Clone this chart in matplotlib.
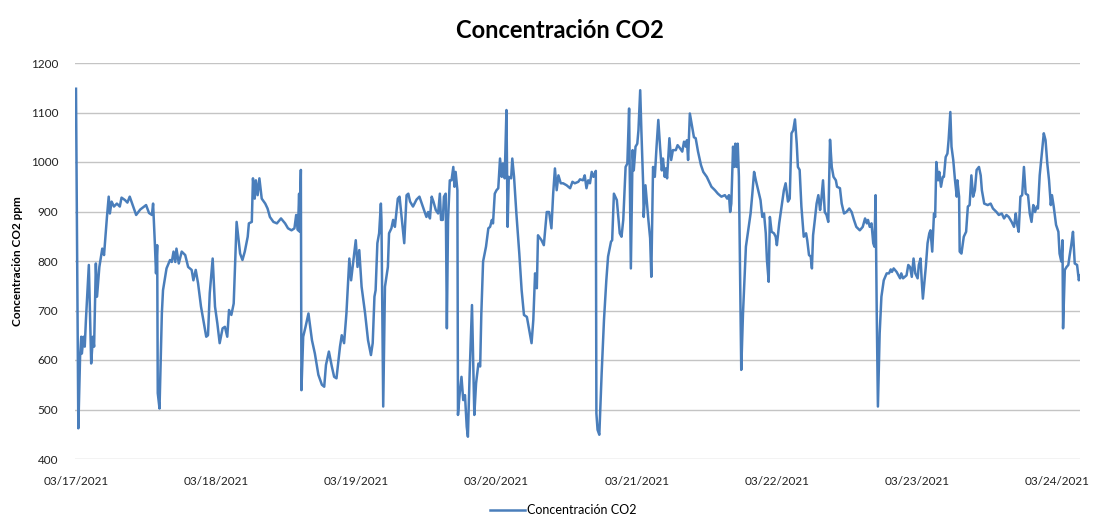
import matplotlib
matplotlib.use("Agg")
import matplotlib.pyplot as plt

plt.rcParams['font.family'] = ['Lato', 'DejaVu Sans']

title = "Concentración CO2"
y_label = "Concentración CO2 ppm"
series_name = "Concentración CO2"
day_labels = ["03/17/2021", "03/18/2021", "03/19/2021", "03/20/2021",
              "03/21/2021", "03/22/2021", "03/23/2021", "03/24/2021"]
y_ticks = [400, 500, 600, 700, 800, 900, 1000, 1100, 1200]

# hours since 03/17/2021 00:00
hours = [
    0.0, 0.4, 0.7, 0.9, 1.0, 1.3, 1.5, 1.7, 2.2, 2.6, 2.9, 3.1, 3.4, 3.6, 4.0, 4.5, 4.8,
    5.3, 5.6, 5.8, 6.1, 6.5, 7.0, 7.5, 7.8, 8.4, 8.8, 9.2, 9.7, 10.3, 11.0, 12.0, 12.5,
    13.0, 13.2, 13.5, 13.7, 13.9, 14.0, 14.3, 14.7, 14.9, 15.5, 16.1, 16.4, 16.7, 17.0,
    17.2, 17.6, 18.1, 18.7, 19.2, 19.8, 20.1, 20.5, 20.9, 21.4, 22.0, 22.3, 22.6, 22.9,
    23.4, 23.8, 24.2, 24.6, 25.1, 25.5, 25.9, 26.2, 26.6, 27.0, 27.5, 28.1, 28.5, 28.9,
    29.4, 29.6, 30.1, 30.3, 30.6, 30.8, 31.1, 31.4, 31.8, 32.4, 32.8, 33.2, 33.8, 34.4,
    35.1, 35.8, 36.3, 36.9, 37.4, 37.7, 38.0, 38.2, 38.3, 38.5, 38.6, 38.9, 39.3, 39.8,
    40.4, 40.9, 41.5, 42.1, 42.5, 42.8, 43.3, 43.8, 44.2, 44.6, 45.2, 45.5, 45.9, 46.3,
    46.8, 47.1, 47.5, 47.9, 48.2, 48.5, 48.9, 49.5, 50.0, 50.5, 50.8, 51.1, 51.3, 51.6,
    51.9, 52.2, 52.3, 52.6, 52.9, 53.4, 53.6, 54.0, 54.3, 54.6, 55.1, 55.4, 56.2, 56.6,
    56.9, 57.2, 57.7, 58.3, 58.8, 59.2, 59.7, 60.0, 60.3, 60.6, 60.9, 61.2, 61.6, 62.0,
    62.3, 62.5, 62.8, 63.0, 63.3, 63.5, 63.7, 64.0, 64.3, 64.6, 64.8, 65.0, 65.3, 65.4,
    65.7, 66.0, 66.3, 66.6, 66.9, 67.1, 67.4, 67.8, 68.2, 68.5, 68.9, 69.2, 69.4, 69.7,
    70.2, 70.6, 70.9, 71.2, 71.4, 71.7, 72.0, 72.3, 72.6, 72.9, 73.1, 73.4, 73.7, 73.9,
    74.1, 74.5, 74.7, 75.0, 75.4, 75.9, 76.3, 76.7, 77.2, 77.6, 78.0, 78.3, 78.6, 78.9,
    79.1, 79.7, 80.1, 80.6, 81.0, 81.4, 81.7, 82.0, 82.3, 82.6, 83.0, 83.4, 84.0, 84.6,
    85.0, 85.4, 86.0, 86.3, 86.8, 87.1, 87.4, 87.7, 88.0, 88.3, 88.6, 89.0, 89.1, 89.3,
    89.6, 90.0, 90.4, 90.8, 91.1, 91.6, 91.8, 92.1, 92.6, 92.8, 93.1, 93.4, 93.7, 94.1,
    94.4, 94.7, 94.8, 95.0, 95.3, 95.5, 95.8, 96.1, 96.3, 96.6, 96.8, 97.1, 97.2, 97.5,
    98.0, 98.3, 98.5, 98.8, 99.1, 99.4, 99.7, 100.0, 100.3, 100.5, 100.8, 101.0, 101.2,
    101.6, 101.9, 102.2, 102.7, 103.0, 103.4, 103.8, 104.1, 104.4, 104.6, 104.8, 105.1,
    105.5, 105.8, 106.1, 106.5, 107.0, 107.4, 108.0, 108.4, 108.8, 109.4, 109.9, 110.5,
    111.1, 111.5, 111.8, 112.0, 112.2, 112.5, 112.7, 112.9, 113.1, 113.3, 113.5, 113.9,
    114.2, 114.7, 115.1, 115.5, 115.8, 116.1, 116.4, 116.8, 117.2, 117.5, 117.8, 118.1,
    118.3, 118.6, 118.8, 119.1, 119.5, 119.8, 120.0, 120.4, 120.8, 121.2, 121.5, 121.9,
    122.2, 122.5, 122.8, 123.1, 123.4, 123.6, 123.9, 124.2, 124.6, 125.0, 125.2, 125.5,
    125.8, 126.0, 126.2, 126.5, 126.8, 127.1, 127.4, 127.6, 127.9, 128.2, 128.5, 128.8,
    129.1, 129.4, 129.7, 130.1, 130.3, 130.8, 131.1, 131.5, 131.9, 132.4, 132.8, 133.2,
    133.6, 134.2, 134.7, 135.1, 135.4, 135.6, 135.9, 136.2, 136.5, 136.7, 136.9, 137.1,
    137.3, 137.6, 137.9, 138.3, 138.8, 139.2, 139.5, 139.7, 140.0, 140.5, 141.1, 141.3,
    141.6, 142.2, 142.5, 142.8, 143.1, 143.4, 143.7, 144.1, 144.3, 144.6, 144.8, 145.0,
    145.5, 145.8, 146.1, 146.3, 146.6, 146.9, 147.1, 147.3, 147.6, 147.8, 148.1, 148.4,
    148.6, 148.9, 149.2, 149.4, 149.7, 149.9, 150.2, 150.5, 150.8, 150.9, 151.2, 151.3,
    151.6, 152.0, 152.4, 152.7, 153.0, 153.3, 153.6, 153.9, 154.2, 154.6, 154.9, 155.1,
    155.5, 156.1, 156.6, 157.0, 157.6, 158.0, 158.5, 158.9, 159.3, 159.7, 160.2, 160.6,
    160.9, 161.1, 161.4, 161.7, 162.0, 162.3, 162.6, 163.0, 163.3, 163.6, 163.9, 164.2,
    164.5, 164.7, 165.0, 165.3, 165.7, 166.0, 166.3, 166.6, 166.9, 167.1, 167.4, 167.8,
    168.2, 168.4, 168.7, 168.9, 169.0, 169.3, 169.6, 169.9, 170.1, 170.4, 170.7, 171.0,
    171.4, 171.7, 171.9,
]

ppm = [
    1148, 462, 607, 647, 613, 647, 627, 681, 792, 593, 647, 627, 795, 728, 788, 825, 812,
    889, 930, 896, 920, 910, 916, 910, 928, 923, 918, 930, 913, 893, 904, 913, 897,
    893, 916, 836, 775, 832, 533, 502, 694, 741, 785, 802, 798, 819, 798,
    825, 795, 819, 812, 788, 782, 761, 782, 755, 708, 667, 647, 650, 735,
    805, 708, 674, 634, 664, 667, 647, 701, 691, 714, 879, 815, 802, 819,
    849, 876, 879, 967, 926, 963, 933, 967, 926, 916, 906, 889, 879, 876,
    886, 876, 866, 862, 866, 893, 862, 936, 859, 984, 539, 647, 667, 694,
    640, 613, 570, 550, 546, 590, 617, 587, 566, 563, 627, 650, 634, 694,
    805, 761, 802, 842, 788, 822, 748, 694, 640, 610, 634, 728, 741, 836,
    856, 916, 883, 506, 748, 788, 856, 866, 883, 869, 926, 930, 836, 933,
    936, 920, 910, 924, 930, 916, 899, 889, 899, 886, 930, 920, 903, 896,
    936, 883, 883, 930, 936, 664, 883, 963, 963, 990, 950, 980, 943, 489,
    533, 566, 519, 529, 465, 445, 573, 711, 489, 553, 593, 587, 694, 799,
    829, 866, 869, 883, 876, 936, 943, 947, 1007, 970, 997, 967, 1105, 869,
    970, 967, 1007, 970, 896, 815, 741, 691, 687, 661, 634, 681, 775, 745,
    852, 842, 832, 899, 899, 866, 936, 987, 943, 973, 957, 957, 953, 947,
    960, 957, 960, 965, 963, 973, 947, 963, 957, 980, 970, 982, 492, 459,
    449, 573, 681, 761, 809, 839, 842, 936, 923, 896, 856, 849, 883, 990,
    997, 1108, 990, 785, 1024, 983, 1031, 1037, 1064, 1145, 1064, 957, 889, 953,
    883, 846, 768, 990, 970, 1031, 1085, 1031, 983, 1007, 970, 987, 967,
    1048, 1004, 1024, 1024, 1034, 1028, 1021, 1041, 1031, 1044, 1004, 1098,
    1071, 1050, 1048, 1021, 994, 980, 970, 960, 950, 943, 936, 930,
    933, 926, 933, 899, 916, 1031, 990, 1037, 990, 1037, 970, 580,
    694, 829, 862, 896, 936, 980, 963, 943, 923, 889, 896, 856,
    802, 758, 889, 859, 856, 849, 832, 876, 910, 943, 957, 920,
    926, 1058, 1064, 1086, 1037, 990, 984, 910, 849, 856, 842, 812,
    809, 785, 852, 883, 916, 933, 903, 923, 963, 899, 893, 879,
    1045, 990, 970, 963, 950, 947, 916, 896, 899, 906, 899, 883,
    869, 862, 869, 886, 876, 883, 869, 876, 836, 829, 933, 694,
    506, 654, 728, 761, 775, 775, 783, 778, 785, 778, 765, 775,
    765, 771, 792, 788, 768, 805, 775, 765, 792, 805, 761, 724,
    788, 836, 856, 862, 819, 896, 889, 1000, 963, 980, 950, 970,
    970, 1010, 1017, 1044, 1101, 1031, 1004, 963, 930, 963, 930, 819,
    815, 849, 859, 910, 913, 973, 930, 943, 984, 990, 973, 943,
    916, 913, 916, 906, 899, 893, 896, 886, 893, 889, 879, 869,
    896, 876, 859, 930, 933, 990, 936, 933, 896, 879, 913, 899,
    910, 906, 973, 1010, 1058, 1044, 997, 963, 913, 933, 910, 873,
    859, 815, 799, 842, 664, 782, 788, 792, 809, 832, 859, 795,
    792, 761, 771,
]

line_color = "#4a7ebb"
grid_color = "#c4c4c4"

fig = plt.figure(figsize=(10.93, 5.16), dpi=100)
ax = fig.add_axes([75 / 1093, 1 - 459 / 516, (1080 - 75) / 1093, (459 - 63) / 516])

ax.plot(hours, ppm, color=line_color, lw=1.8, label=series_name, solid_joinstyle='round')

ax.set_xlim(-0.17, 171.9)
ax.set_ylim(400, 1200)
ax.set_yticks(y_ticks)
ax.set_xticks([24 * i for i in range(len(day_labels))])
ax.set_xticklabels(day_labels)
ax.yaxis.grid(True, color=grid_color, lw=1.0)
ax.set_axisbelow(True)
for s in ax.spines.values():
    s.set_visible(False)
ax.tick_params(axis='both', length=0, labelsize=8.5, colors='#222222')
ax.tick_params(axis='y', pad=12)
ax.tick_params(axis='x', pad=12)

ax.set_ylabel(y_label, fontsize=8.5, fontweight='bold')
ax.yaxis.set_label_coords(-52 / 1005, 0.5)
fig.suptitle(title, x=560 / 1093, y=1 - 30 / 516, va='center', fontsize=17, fontweight='bold')

fig.legend(loc='center', bbox_to_anchor=(563 / 1093, 1 - 510 / 516), frameon=False,
           fontsize=9, handlelength=2.8, handletextpad=0.2)

fig.savefig("out.png", dpi=100, facecolor='white')
